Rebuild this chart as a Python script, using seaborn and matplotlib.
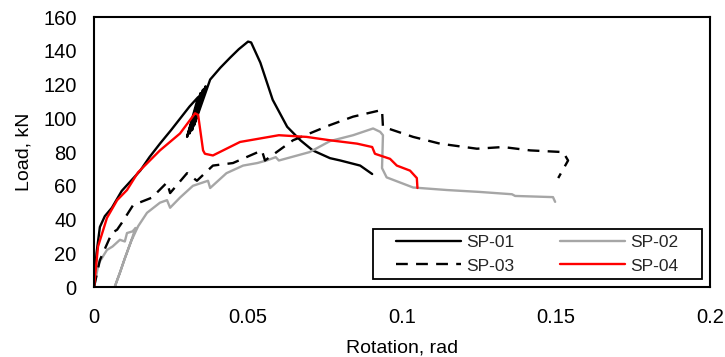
import numpy as np
import pandas as pd
import matplotlib
matplotlib.use("Agg")
import matplotlib.pyplot as plt
from matplotlib.patches import Rectangle
import seaborn as sns

# Load-rotation response of four specimens
sp01_rot = [0.0, 0.0008, 0.0019, 0.0035, 0.0058, 0.0090, 0.0120, 0.0150, 0.0180, 0.0214,
            0.0250, 0.0280, 0.0310, 0.0338, 0.0302, 0.0346, 0.0310, 0.0354, 0.0318, 0.0362,
            0.0325, 0.0377, 0.0410, 0.0442, 0.0470, 0.0490, 0.0500, 0.0510, 0.0540, 0.0580,
            0.0627, 0.0670, 0.0710, 0.0766, 0.0800, 0.0864, 0.0903]
sp01_load = [0.0, 20.0, 35.6, 42.0, 47.0, 57.0, 63.0, 69.0, 77.0, 85.0,
             93.0, 100.0, 107.0, 112.6, 89.0, 115.0, 91.0, 117.0, 93.0, 119.0,
             96.0, 123.0, 130.0, 136.0, 141.0, 144.0, 145.5, 145.0, 133.0, 111.0,
             95.0, 87.0, 81.0, 76.4, 75.0, 72.0, 67.0]

sp02_rot = [0.0, 0.0015, 0.0042, 0.0060, 0.0084, 0.0100, 0.0107, 0.0125, 0.0135, 0.0120,
            0.0100, 0.0085, 0.0068, 0.0085, 0.0100, 0.0120, 0.0143, 0.0172, 0.0214, 0.0237,
            0.0247, 0.0279, 0.0321, 0.0370, 0.0377, 0.0430, 0.0484, 0.0530, 0.0560, 0.0590,
            0.0600, 0.0640, 0.0700, 0.0766, 0.0841, 0.0906, 0.0929, 0.0938, 0.0935, 0.0950,
            0.1036, 0.1146, 0.1250, 0.1357, 0.1367, 0.1490, 0.1497]
sp02_load = [0.0, 14.0, 22.0, 24.0, 28.0, 27.0, 32.0, 33.0, 35.0, 27.0,
             17.0, 9.0, 0.5, 9.0, 17.0, 27.0, 36.0, 44.0, 50.0, 51.5,
             47.0, 53.0, 60.0, 63.0, 58.7, 67.5, 72.0, 73.5, 75.0, 77.0,
             75.0, 77.0, 80.0, 86.5, 90.0, 94.0, 92.0, 90.0, 70.5, 65.0,
             59.0, 57.5, 56.4, 55.0, 54.0, 53.3, 50.5]

sp03_rot = [0.0, 0.0019, 0.0058, 0.0075, 0.0090, 0.0127, 0.0188, 0.0237, 0.0247, 0.0302,
            0.0334, 0.0386, 0.0451, 0.0545, 0.0555, 0.0646, 0.0766, 0.0841, 0.0935, 0.0938,
            0.1036, 0.1123, 0.1243, 0.1328, 0.1416, 0.1523, 0.1539, 0.1507]
sp03_load = [0.0, 16.0, 32.0, 34.0, 38.0, 48.6, 53.0, 62.0, 55.7, 67.5,
             63.0, 72.0, 73.5, 81.0, 75.0, 87.0, 96.0, 101.0, 105.0, 95.0,
             89.0, 85.0, 82.0, 83.0, 81.0, 80.0, 75.0, 64.6]

sp04_rot = [0.0, 0.0013, 0.0042, 0.0075, 0.0107, 0.0143, 0.0214, 0.0279, 0.0328, 0.0338,
            0.0354, 0.0360, 0.0386, 0.0474, 0.0600, 0.0690, 0.0766, 0.0854, 0.0903, 0.0912,
            0.0961, 0.0983, 0.1026, 0.1048, 0.1050]
sp04_load = [0.0, 24.0, 41.0, 51.5, 57.5, 68.0, 81.0, 91.0, 103.0, 102.0,
             81.0, 79.0, 78.0, 86.0, 90.0, 89.0, 87.0, 85.0, 83.0, 79.0,
             76.0, 72.0, 69.0, 64.6, 58.7]

labels = ["SP-01", "SP-02", "SP-03", "SP-04"]
x_ticks = [0, 0.05, 0.1, 0.15, 0.2]
x_tick_labels = ["0", "0.05", "0.1", "0.15", "0.2"]
y_ticks = [0, 20, 40, 60, 80, 100, 120, 140, 160]

sns.set_theme(style="white")
plt.rcParams["font.family"] = ["Liberation Sans", "DejaVu Sans"]

fig = plt.figure(figsize=(7.25, 3.57), dpi=100)
ax = fig.add_axes([0.1297, 0.196, 0.8497, 0.756])

series = [
    (sp01_rot, sp01_load, "black", "-"),
    (sp02_rot, sp02_load, "#a6a6a6", "-"),
    (sp03_rot, sp03_load, "black", "--"),
    (sp04_rot, sp04_load, "#ff0000", "-"),
]
for (xs, ys, col, ls), lab in zip(series, labels):
    df = pd.DataFrame({"rot": xs, "load": ys})
    line_kw = dict(dashes=(5, 3.5)) if ls == "--" else {}
    sns.lineplot(data=df, x="rot", y="load", sort=False, estimator=None,
                 color=col, linewidth=1.7, ax=ax, label=lab, **line_kw)

ax.set_xlim(0, 0.2)
ax.set_ylim(0, 160)
ax.set_xticks(x_ticks)
ax.set_xticklabels(x_tick_labels)
ax.set_yticks(y_ticks)
ax.tick_params(axis="both", length=0, labelsize=14.5, colors="black")
ax.tick_params(axis="y", pad=12.5)
ax.tick_params(axis="x", pad=15)
ax.set_xlabel("Rotation, rad", fontsize=14, color="black", labelpad=9)
ax.set_ylabel("Load, kN", fontsize=14, color="black", labelpad=8)
for sp in ax.spines.values():
    sp.set_visible(True)
    sp.set_color("black")
    sp.set_linewidth(1.5)

# legend box: white panel with black border, entries laid out in two rows
ax.add_patch(Rectangle((0.4529, 0.0296), 0.5341, 0.1852, transform=ax.transAxes,
                       facecolor="white", edgecolor="black", linewidth=1.3,
                       zorder=4, clip_on=False))
handles, labs = ax.get_legend_handles_labels()
order = [0, 2, 1, 3]
leg = ax.legend([handles[i] for i in order], [labs[i] for i in order],
                loc="center left", bbox_to_anchor=(0.4903, 0.1222), borderaxespad=0,
                ncol=2, fontsize=12.5, frameon=False, handlelength=3.75,
                handletextpad=0.3, columnspacing=2.6, labelspacing=0.5, borderpad=0)
leg.set_zorder(5)

fig.savefig("out.png", dpi=100, facecolor="white")
